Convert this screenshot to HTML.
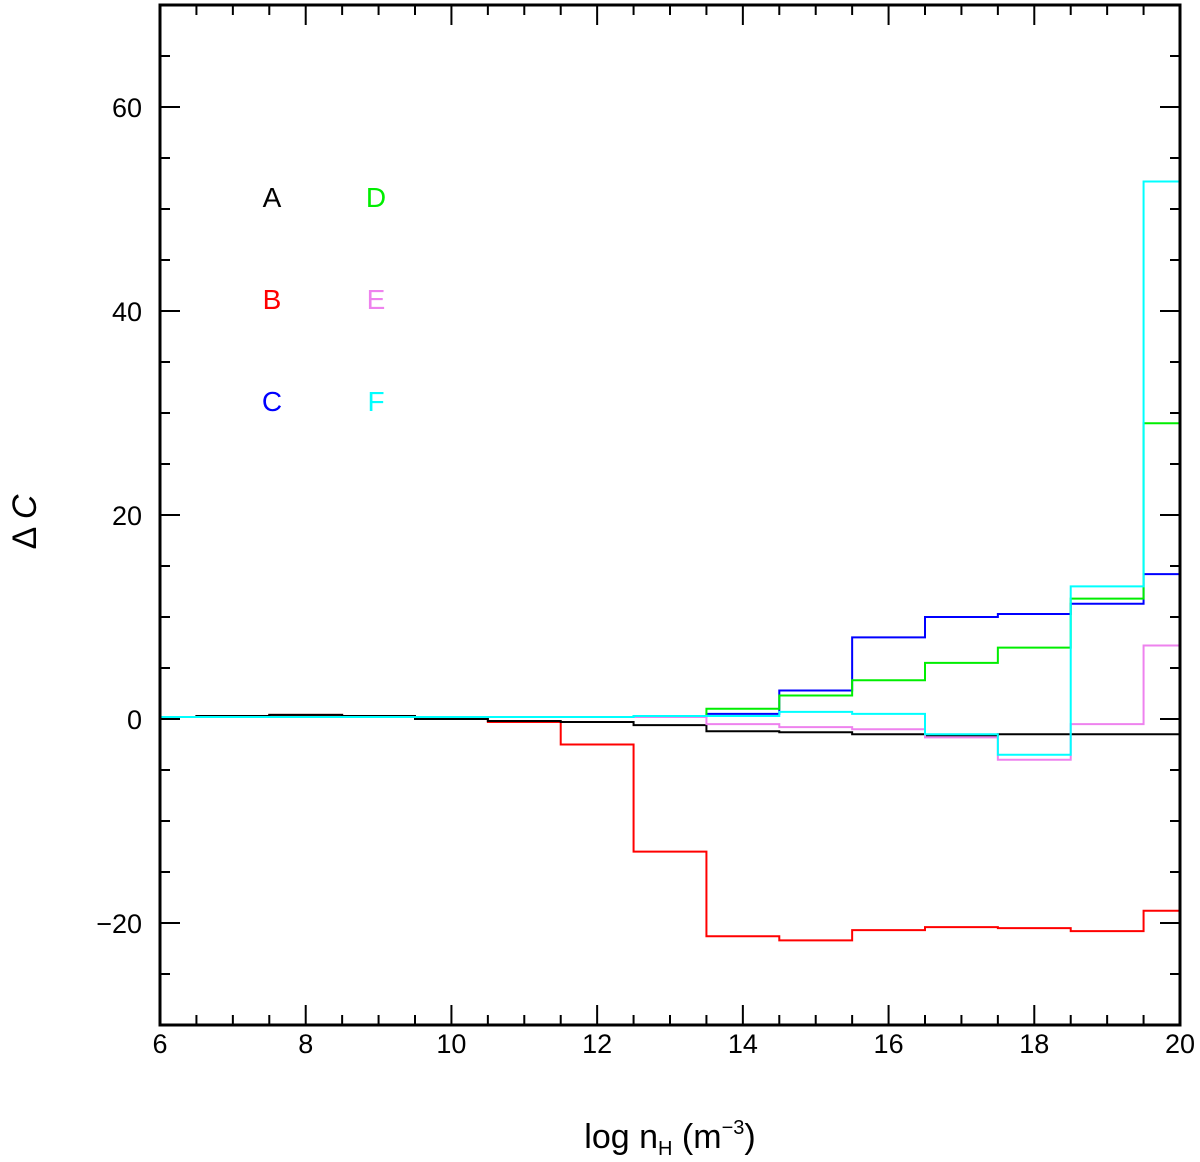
<!DOCTYPE html>
<html><head><meta charset="utf-8"><style>body{margin:0;background:#fff}svg{display:block;font-family:"Liberation Sans",sans-serif}</style></head>
<body>
<svg id="chart" width="1200" height="1162" viewBox="0 0 1200 1162"></svg>
<script>
const xs=[6,7,8,9,10,11,12,13,14,15,16,17,18,19,20];
const seriesA=[0.2,0.3,0.4,0.3,0,-0.2,-0.3,-0.6,-1.2,-1.3,-1.5,-1.6,-1.5,-1.5,-1.5];
const seriesB=[0.2,0.3,0.4,0.3,0,-0.3,-2.5,-13,-21.3,-21.7,-20.7,-20.4,-20.5,-20.8,-18.8];
const seriesC=[0.2,0.2,0.2,0.2,0.2,0.2,0.2,0.2,0.5,2.8,8,10,10.3,11.3,14.2];
const seriesD=[0.2,0.2,0.2,0.2,0.2,0.2,0.2,0.3,1,2.3,3.8,5.5,7,11.8,29];
const seriesE=[0.2,0.2,0.2,0.2,0.2,0.2,0.2,0.2,-0.5,-0.8,-1,-1.8,-4,-0.5,7.2];
const seriesF=[0.2,0.2,0.2,0.2,0.2,0.2,0.2,0.3,0.3,0.7,0.5,-1.5,-3.5,13,52.7];
const xTicks=[6,8,10,12,14,16,18,20];
const yTicks=[-20,0,20,40,60];
const names=["A","B","C","D","E","F"];
const colors=["#000","#f00","#00f","#0e0","#ee82ee","#0ff"];
const all=[seriesA,seriesB,seriesC,seriesD,seriesE,seriesF];
const L=160,R=1180,T=5,B=1025,xmin=6,xmax=20,ymin=-30,ymax=70;
const X=v=>L+(v-xmin)/(xmax-xmin)*(R-L), Y=v=>B-(v-ymin)/(ymax-ymin)*(B-T);
const svg=document.getElementById('chart'),NS="http://www.w3.org/2000/svg";
function mk(t,a,p){const e=document.createElementNS(NS,t);for(const k in a)e.setAttribute(k,a[k]);(p||svg).appendChild(e);return e;}
[1,0,2,3,4,5].forEach(i=>{const s=all[i];let d="";
 for(let j=0;j<xs.length;j++){const x0=X(Math.max(xmin,xs[j]-0.5)),x1=X(Math.min(xmax,xs[j]+0.5)),y=Y(s[j]);d+=(j?"L":"M")+x0+","+y+"L"+x1+","+y;}
 const p=mk('path',{d:d,fill:'none',stroke:colors[i],'stroke-width':2});
 
 
 const t=mk('text',{x:(i<3?272:376),y:207+(i%3)*102,'font-size':28,fill:colors[i],'text-anchor':'middle'});t.textContent=names[i];
 
 
});
const frame=mk('rect',{x:L,y:T,width:R-L,height:B-T,fill:'none',stroke:'#000','stroke-width':3});


for(let v=6;v<=20.001;v+=0.5){const x=X(v),maj=xTicks.includes(v),l=maj?20:10;
 mk('line',{x1:x,x2:x,y1:B,y2:B-l,stroke:'#000','stroke-width':2});mk('line',{x1:x,x2:x,y1:T,y2:T+l,stroke:'#000','stroke-width':2});}
xTicks.forEach(v=>{const t=mk('text',{x:X(v),y:1053,'font-size':27,'text-anchor':'middle'});t.textContent=v;
 
 });
for(let v=-30;v<=70;v+=5){const y=Y(v),maj=yTicks.includes(v),l=maj?20:10;
 mk('line',{x1:L,x2:L+l,y1:y,y2:y,stroke:'#000','stroke-width':2});mk('line',{x1:R,x2:R-l,y1:y,y2:y,stroke:'#000','stroke-width':2});}
yTicks.forEach(v=>{const t=mk('text',{x:142,y:Y(v)+10,'font-size':27,'text-anchor':'end'});t.textContent=v<0?"\u2212"+(-v):v;
 
 });
</script>
<svg style="position:absolute;left:0;top:0" width="1200" height="1162">
<text x="670" y="1148" font-size="34" text-anchor="middle" font-family="Liberation Sans,sans-serif">log n<tspan font-size="20" dy="7">H</tspan><tspan dy="-7"> (m</tspan><tspan font-size="20" dy="-14">−3</tspan><tspan dy="14">)</tspan></text>
<text transform="translate(36,522) rotate(-90)" font-size="34" text-anchor="middle" font-family="Liberation Sans,sans-serif">Δ <tspan font-style="italic">C</tspan></text>
</svg>
</body></html>
